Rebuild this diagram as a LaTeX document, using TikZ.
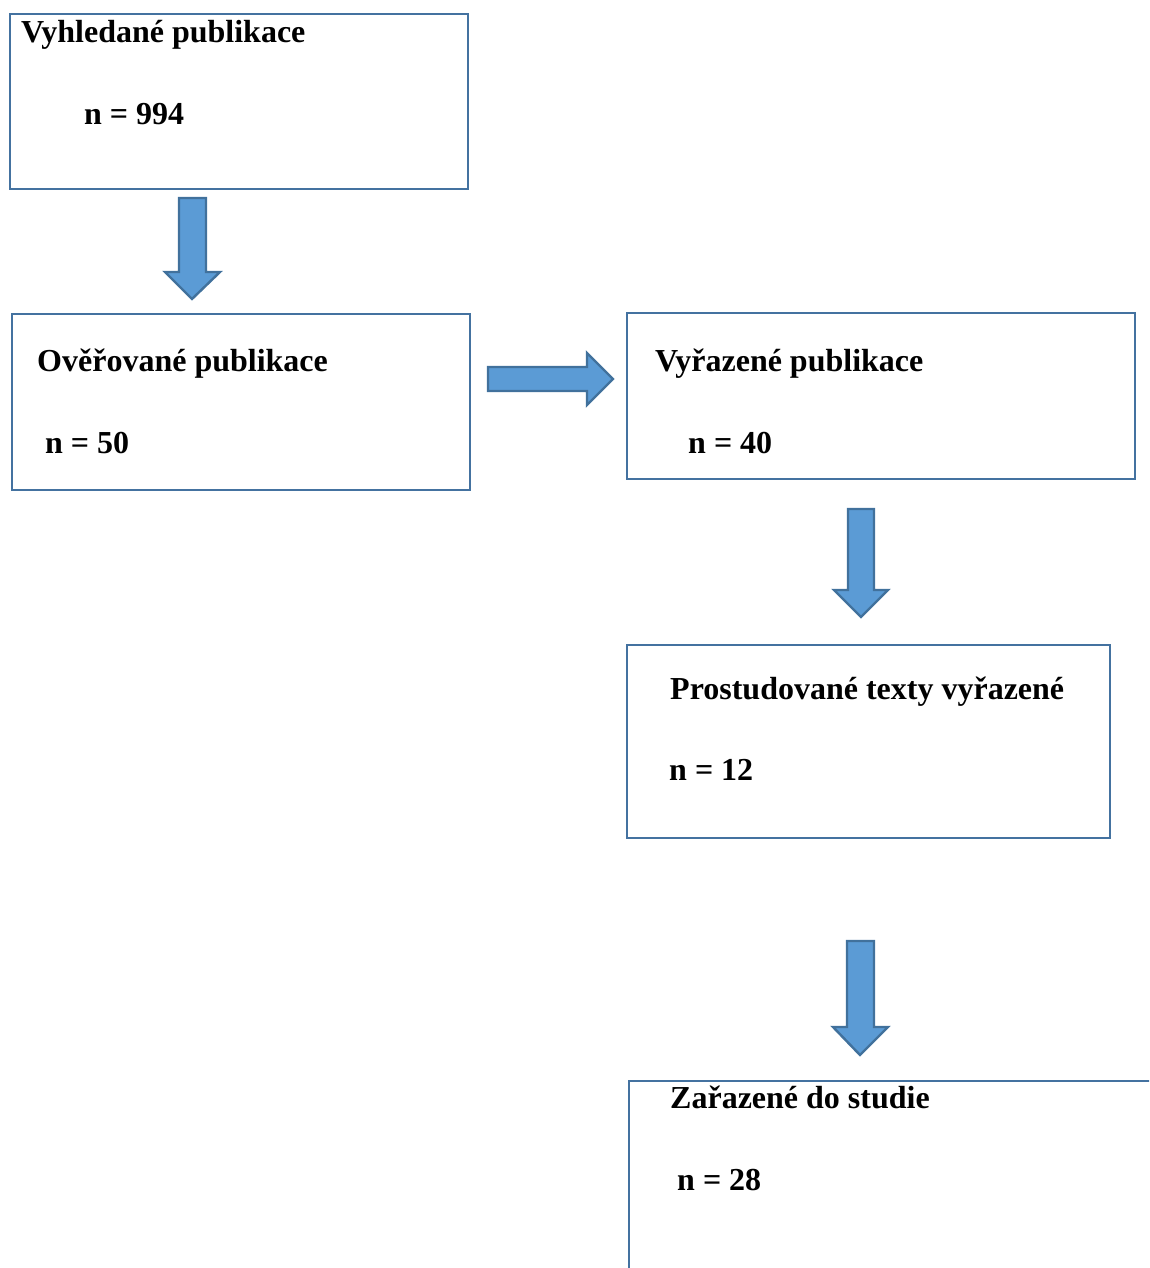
\documentclass[tikz,border=0pt]{standalone}
\usepackage{fontspec}
\setmainfont{Liberation Serif}
\usepackage{xcolor}
\definecolor{boxblue}{RGB}{68,114,160}
\definecolor{arrowfill}{RGB}{91,155,213}
\definecolor{arrowline}{RGB}{65,113,156}

\tikzset{
  stagebox/.style={draw=boxblue, line width=2.6pt, anchor=north west, inner sep=0pt, outer sep=0pt},
  stagetext/.style={anchor=base west, inner sep=0pt, font=\fontsize{32}{38}\selectfont\bfseries},
  blockarrow/.style={fill=arrowfill, draw=arrowline, line width=2.4pt, line join=miter}
}

\begin{document}
\begin{tikzpicture}[x=1pt, y=-1pt]
    \clip (0,0) rectangle (1149,1268);
    % boxes
    \node[stagebox, minimum width=458pt, minimum height=175pt] (found) at (10,14) {};
    \node[stagebox, minimum width=458pt, minimum height=176pt] (checked) at (12,314) {};
    \node[stagebox, minimum width=508pt, minimum height=166pt] (excluded) at (627,313) {};
    \node[stagebox, minimum width=483pt, minimum height=193pt] (studied) at (627,645) {};
    \node[stagebox, minimum width=560pt, minimum height=220pt] (included) at (629,1081) {};
    % texts
    \node[stagetext] (foundT) at (21,43) {Vyhledané publikace};
    \node[stagetext] (foundN) at (84,125) {n = 994};
    \node[stagetext] (checkedT) at (37,371) {Ověřované publikace};
    \node[stagetext] (checkedN) at (45,453) {n = 50};
    \node[stagetext] (excludedT) at (655,371) {Vyřazené publikace};
    \node[stagetext] (excludedN) at (688,453) {n = 40};
    \node[stagetext] (studiedT) at (670,699) {Prostudované texty vyřazené};
    \node[stagetext] (studiedN) at (669,780) {n = 12};
    \node[stagetext] (includedT) at (670,1108) {Zařazené do studie};
    \node[stagetext] (includedN) at (677,1190) {n = 28};
    % block arrows
    \draw[blockarrow] (179,198) -- (206,198) -- (206,272) -- (220,272) -- (192,299)
        -- (165,272) -- (179,272) -- cycle;
    \draw[blockarrow] (488,367) -- (587,367) -- (587,353) -- (613,379) -- (587,405)
        -- (587,391) -- (488,391) -- cycle;
    \draw[blockarrow] (848,509) -- (874,509) -- (874,590) -- (888,590) -- (861,617)
        -- (834,590) -- (848,590) -- cycle;
    \draw[blockarrow] (847,941) -- (874,941) -- (874,1027) -- (888,1027) -- (860,1055)
        -- (833,1027) -- (847,1027) -- cycle;
\end{tikzpicture}
\end{document}
